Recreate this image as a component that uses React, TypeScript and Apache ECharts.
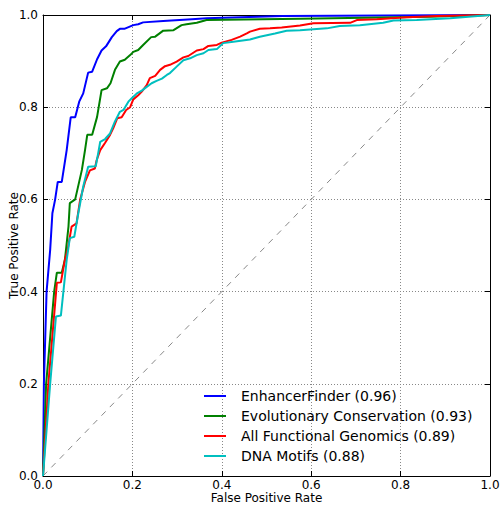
import React, { useEffect, useRef } from "react";
import * as echarts from "echarts";

const seriesNames = [
  "EnhancerFinder (0.96)",
  "Evolutionary Conservation (0.93)",
  "All Functional Genomics (0.89)",
  "DNA Motifs (0.88)",
];
const seriesColors = ["#0000ff", "#008000", "#ff0000", "#00bfbf"];

const enhancerFpr = [0, 0.002, 0.008, 0.016, 0.021, 0.027, 0.033, 0.042, 0.053, 0.062, 0.072, 0.081, 0.09, 0.101, 0.11, 0.121, 0.131, 0.141, 0.154, 0.165, 0.172, 0.182, 0.202, 0.213, 0.224, 0.269, 0.333, 0.366, 0.537, 1];
const enhancerTpr = [0, 0.2, 0.4, 0.49, 0.57, 0.599, 0.638, 0.638, 0.707, 0.778, 0.778, 0.812, 0.83, 0.875, 0.877, 0.904, 0.923, 0.932, 0.952, 0.965, 0.97, 0.97, 0.978, 0.98, 0.984, 0.987, 0.991, 0.993, 0.998, 1];

const conservationFpr = [0, 0.007, 0.025, 0.031, 0.042, 0.049, 0.057, 0.06, 0.072, 0.087, 0.094, 0.099, 0.11, 0.121, 0.131, 0.143, 0.151, 0.161, 0.172, 0.183, 0.195, 0.202, 0.213, 0.224, 0.242, 0.251, 0.269, 0.292, 0.31, 0.321, 0.344, 0.366, 0.575, 0.866, 1];
const conservationTpr = [0, 0.2, 0.4, 0.441, 0.441, 0.469, 0.541, 0.592, 0.6, 0.664, 0.707, 0.74, 0.74, 0.779, 0.837, 0.841, 0.852, 0.881, 0.899, 0.903, 0.913, 0.92, 0.924, 0.935, 0.952, 0.953, 0.966, 0.967, 0.978, 0.98, 0.983, 0.989, 0.992, 0.996, 1];

const functionalFpr = [0, 0.012, 0.031, 0.04, 0.049, 0.055, 0.064, 0.075, 0.083, 0.094, 0.105, 0.116, 0.12, 0.128, 0.139, 0.15, 0.157, 0.166, 0.176, 0.186, 0.195, 0.202, 0.213, 0.221, 0.232, 0.239, 0.251, 0.262, 0.273, 0.284, 0.299, 0.314, 0.325, 0.344, 0.359, 0.37, 0.389, 0.4, 0.422, 0.441, 0.456, 0.463, 0.485, 0.508, 0.534, 0.575, 0.605, 0.687, 0.702, 0.747, 0.814, 0.881, 1];
const functionalTpr = [0, 0.2, 0.419, 0.42, 0.469, 0.49, 0.541, 0.548, 0.599, 0.638, 0.663, 0.667, 0.685, 0.707, 0.723, 0.74, 0.754, 0.776, 0.778, 0.794, 0.8, 0.817, 0.826, 0.834, 0.848, 0.863, 0.868, 0.881, 0.889, 0.892, 0.899, 0.908, 0.911, 0.923, 0.926, 0.933, 0.935, 0.94, 0.946, 0.953, 0.96, 0.964, 0.97, 0.971, 0.973, 0.977, 0.982, 0.983, 0.989, 0.991, 0.995, 0.998, 1];

const motifsFpr = [0, 0.016, 0.029, 0.04, 0.053, 0.06, 0.07, 0.079, 0.09, 0.101, 0.118, 0.124, 0.128, 0.139, 0.15, 0.161, 0.172, 0.18, 0.191, 0.198, 0.21, 0.221, 0.232, 0.243, 0.254, 0.266, 0.277, 0.284, 0.299, 0.314, 0.329, 0.344, 0.359, 0.37, 0.389, 0.403, 0.426, 0.463, 0.485, 0.519, 0.545, 0.575, 0.635, 0.664, 0.709, 0.761, 0.784, 0.836, 0.911, 1];
const motifsTpr = [0, 0.2, 0.346, 0.348, 0.469, 0.516, 0.519, 0.57, 0.628, 0.671, 0.672, 0.703, 0.725, 0.731, 0.743, 0.769, 0.79, 0.794, 0.812, 0.819, 0.83, 0.836, 0.844, 0.852, 0.857, 0.862, 0.87, 0.874, 0.888, 0.902, 0.906, 0.913, 0.917, 0.924, 0.926, 0.939, 0.942, 0.947, 0.953, 0.96, 0.966, 0.967, 0.971, 0.976, 0.978, 0.983, 0.988, 0.989, 0.993, 1];

const chanceFpr = [0, 1];
const chanceTpr = [0, 1];

function zip(xs: number[], ys: number[]): number[][] {
  const n = Math.min(xs.length, ys.length);
  const out: number[][] = [];
  for (let i = 0; i < n; i++) out.push([xs[i], ys[i]]);
  return out;
}

const FONT = "DejaVu Sans";

export default function App() {
  const ref = useRef<HTMLDivElement>(null);
  useEffect(() => {
    if (!ref.current) return;
    const chart = echarts.init(ref.current, undefined, { renderer: "svg" });
    const curves = [
      zip(enhancerFpr, enhancerTpr),
      zip(conservationFpr, conservationTpr),
      zip(functionalFpr, functionalTpr),
      zip(motifsFpr, motifsTpr),
    ];
    const axisCommon = {
      type: "value" as const,
      min: 0,
      max: 1,
      interval: 0.2,
      axisLine: { show: true, onZero: false, lineStyle: { color: "#000", width: 1 } },
      axisTick: { show: true, inside: true, length: 5, lineStyle: { color: "#000", width: 1 } },
    };
    const hidden = {
      ...axisCommon,
      axisLabel: { show: false },
      splitLine: { show: false },
    };
    const shown = {
      ...axisCommon,
      nameLocation: "middle" as const,
      nameMoveOverlap: false,
      nameTextStyle: { fontFamily: FONT, fontSize: 12, lineHeight: 12, color: "#000" },
      axisLabel: {
        show: true,
        fontFamily: FONT,
        fontSize: 12,
        lineHeight: 12,
        color: "#000",
        margin: 5,
        formatter: (v: number) => v.toFixed(1),
      },
      splitLine: { show: true, lineStyle: { color: "#888", width: 1, type: [1, 2] } },
    };
    chart.setOption({
      animation: false,
      backgroundColor: "#fff",
      grid: { left: 43, top: 15, right: 13, bottom: 29, containLabel: false, outerBoundsMode: "none" },
      xAxis: [
        {
          ...shown,
          position: "bottom",
          name: "False Positive Rate",
          nameGap: 16,
          axisLabel: { ...shown.axisLabel, margin: 3 },
        },
        { ...hidden, position: "top" },
      ],
      yAxis: [
        { ...shown, position: "left", name: "True Positive Rate", nameGap: 23 },
        { ...hidden, position: "right" },
      ],
      legend: {
        data: seriesNames.map((n) => ({ name: n, icon: "rect" })),
        orient: "vertical",
        left: 199,
        top: 384,
        itemWidth: 22,
        itemHeight: 2,
        itemGap: 6,
        textStyle: { fontFamily: FONT, fontSize: 14, color: "#000", padding: [0, 0, 0, 10] },
      },
      series: [
        {
          type: "line",
          name: "chance",
          data: zip(chanceFpr, chanceTpr),
          symbol: "none",
          lineStyle: { color: "#888", width: 1, type: [6, 6] },
          silent: true,
        },
        ...curves.map((d, i) => ({
          type: "line",
          name: seriesNames[i],
          data: d,
          symbol: "none",
          clip: false,
          color: seriesColors[i],
          lineStyle: { color: seriesColors[i], width: 2 },
        })),
      ],
    });
    return () => chart.dispose();
  }, []);
  return (
    <div
      ref={ref}
      style={{ position: "fixed", left: 0, top: 0, width: 503, height: 505, background: "#fff" }}
    />
  );
}
